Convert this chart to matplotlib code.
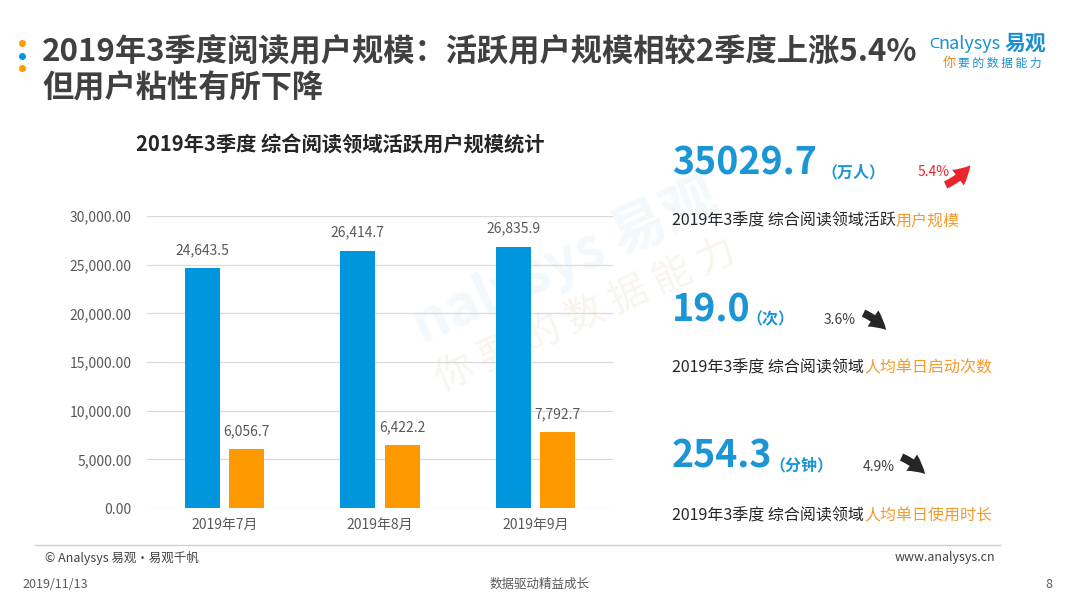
import matplotlib
matplotlib.use("Agg")
import matplotlib.pyplot as plt
from matplotlib.lines import Line2D
from matplotlib.patches import FancyArrowPatch
import numpy as np

plt.rcParams['font.family'] = ['Noto Sans CJK SC', 'DejaVu Sans']

# ---- data ----
months = ['2019年7月', '2019年8月', '2019年9月']
series_blue = [24643.5, 26414.7, 26835.9]
series_orange = [6056.7, 6422.2, 7792.7]
yticks = [0, 5000, 10000, 15000, 20000, 25000, 30000]

kpi_values = ['35029.7', '19.0', '254.3']
kpi_units = ['（万人）', '（次）', '（分钟）']
kpi_changes = ['5.4%', '3.6%', '4.9%']
kpi_prefix = ['2019年3季度 综合阅读领域活跃', '2019年3季度 综合阅读领域', '2019年3季度 综合阅读领域']
kpi_suffix = ['用户规模', '人均单日启动次数', '人均单日使用时长']

BLUE = '#0096DE'
ORANGE = '#FF9900'
NUM_BLUE = '#1B95D6'
TXT_ORANGE = '#F39A2E'

W, H = 1080, 608
fig = plt.figure(figsize=(W / 100, H / 100), dpi=100)
fig.patch.set_facecolor('white')

def fx(x):
    return x / W

def fy(y):
    return 1 - y / H

# ---- watermark ----
fig.text(fx(565), fy(262), 'nalysys 易观', fontsize=40, color='#F2F8FC', rotation=24,
         ha='center', va='center', fontweight='bold', zorder=-5, style='italic')
fig.text(fx(585), fy(315), '你 要 的 数 据 能 力', fontsize=28, color='#F9F5EE', rotation=24,
         ha='center', va='center', zorder=-5)

# ---- bar chart ----
ax = fig.add_axes([fx(147), fy(508), (613 - 147) / W, (508 - 216) / H])
ax.set_facecolor('none')
x = np.arange(len(months))
bw = 0.225
off = 0.143
b1 = ax.bar(x - off, series_blue, width=bw, color=BLUE, zorder=3)
b2 = ax.bar(x + off, series_orange, width=bw, color=ORANGE, zorder=3)
for bars, vals in ((b1, series_blue), (b2, series_orange)):
    for r, v in zip(bars, vals):
        ax.annotate(f'{v:,.1f}', (r.get_x() + r.get_width() / 2, v), xytext=(0, 8),
                    textcoords='offset points', ha='center', va='bottom',
                    fontsize=10, color='#595959')
ax.set_xlim(-0.5, 2.5)
ax.set_ylim(0, 30000)
ax.set_yticks(yticks)
ax.set_yticklabels([f'{v:,.2f}' for v in yticks])
ax.set_xticks(x)
ax.set_xticklabels(months)
ax.tick_params(axis='both', length=0, labelsize=10, labelcolor='#595959')
ax.tick_params(axis='y', pad=11)
ax.tick_params(axis='x', pad=7)
ax.grid(axis='y', color='#D9D9D9', lw=0.9, zorder=0)
for s in ax.spines.values():
    s.set_visible(False)

fig.text(fx(340), fy(145), '2019年3季度 综合阅读领域活跃用户规模统计', fontsize=14.6,
         fontweight='bold', color='#262626', ha='center', va='center')

# ---- title ----
for yy, c in ((43, ORANGE), (56, BLUE), (68, ORANGE)):
    fig.add_artist(Line2D([fx(22)], [fy(yy)], marker='o', markersize=5, color=c,
                          markeredgewidth=0, transform=fig.transFigure))
fig.text(fx(42), fy(52), '2019年3季度阅读用户规模：活跃用户规模相较2季度上涨5.4%',
         fontsize=22.5, fontweight='bold', color='#404040', ha='left', va='center')
fig.text(fx(42), fy(88), '但用户粘性有所下降',
         fontsize=22.5, fontweight='bold', color='#404040', ha='left', va='center')

# ---- logo ----
fig.text(fx(939), fy(44), 'ᑕ', fontsize=10, color='#1C8FD0', ha='right', va='center',
         family=['DejaVu Sans'])
fig.text(fx(1001), fy(44), 'nalysys', fontsize=13, color='#1C8FD0', style='italic',
         ha='right', va='center')
fig.text(fx(1005), fy(43), '易观', fontsize=15, color='#1C8FD0', fontweight='bold',
         ha='left', va='center')
fig.text(fx(943), fy(63), '你', fontsize=9.5, color='#E8891A', ha='left', va='center',
         style='italic')
fig.text(fx(958), fy(63), '要 的 数 据 能 力', fontsize=8.5, color='#1C8FD0', ha='left',
         va='center', style='italic')

# ---- KPI panel ----
num_y = [163, 310, 456]
unit_x = [821, 746, 769]
pct_x = [918, 824, 863]
pct_y = [172, 320, 467]
pct_col = ['#E8262B', '#404040', '#404040']
arrows = [((943, 186), (972, 163)), ((861, 312), (888, 332)), ((899, 456), (927, 476))]
arr_col = ['#E8262B', '#262626', '#262626']
sub_y = [221, 368, 516]

for i in range(3):
    fig.text(fx(672), fy(num_y[i]), kpi_values[i], fontsize=27, fontweight='bold',
             color=NUM_BLUE, ha='left', va='center')
    fig.text(fx(unit_x[i]), fy(num_y[i] + 9), kpi_units[i], fontsize=11.5,
             fontweight='bold', color=NUM_BLUE, ha='left', va='center')
    fig.text(fx(pct_x[i]), fy(pct_y[i]), kpi_changes[i], fontsize=10, color=pct_col[i],
             ha='left', va='center')
    (tx, ty), (hx, hy) = arrows[i]
    fig.add_artist(FancyArrowPatch(
        (fx(tx), fy(ty)), (fx(hx), fy(hy)), transform=fig.transFigure,
        arrowstyle='simple,head_width=1.0,head_length=0.9,tail_width=0.4',
        connectionstyle='arc3,rad=0.15' if i == 0 else 'arc3,rad=-0.12',
        mutation_scale=14, color=arr_col[i], lw=0))
    t1 = fig.text(fx(672), fy(sub_y[i]), kpi_prefix[i], fontsize=11.5, color='#262626',
                  ha='left', va='center')
    ax.annotate(kpi_suffix[i], xy=(1, 0), xycoords=t1, ha='left', va='bottom',
                fontsize=11.5, color=TXT_ORANGE, annotation_clip=False)

# ---- footer ----
fig.add_artist(Line2D([fx(35), fx(1000)], [fy(545), fy(545)], color='#D0D0D0', lw=1,
                      transform=fig.transFigure))
fig.text(fx(45), fy(558), '© Analysys 易观·易观千帆', fontsize=9, color='#404040',
         ha='left', va='center')
fig.text(fx(995), fy(558), 'www.analysys.cn', fontsize=9, color='#404040',
         ha='right', va='center')
fig.text(fx(22), fy(584), '2019/11/13', fontsize=9, color='#595959', ha='left', va='center')
fig.text(fx(540), fy(584), '数据驱动精益成长', fontsize=9, color='#595959',
         ha='center', va='center')
fig.text(fx(1052), fy(584), '8', fontsize=9, color='#595959', ha='right', va='center')

fig.savefig('out.png', dpi=100, facecolor='white')
